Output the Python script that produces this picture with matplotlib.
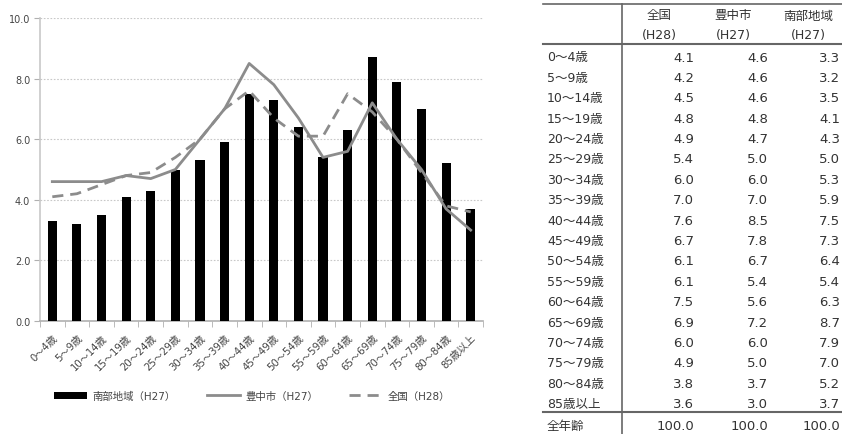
import numpy as np
import matplotlib
matplotlib.use('Agg')
import matplotlib.pyplot as plt
from matplotlib.ticker import FixedLocator

plt.rcParams['font.family'] = ['DejaVu Sans', 'Noto Sans CJK JP']

# age groups and share (%) of population
ages = ['0～4歳', '5～9歳', '10～14歳', '15～19歳', '20～24歳', '25～29歳',
        '30～34歳', '35～39歳', '40～44歳', '45～49歳', '50～54歳', '55～59歳',
        '60～64歳', '65～69歳', '70～74歳', '75～79歳', '80～84歳', '85歳以上']
zenkoku = [4.1, 4.2, 4.5, 4.8, 4.9, 5.4, 6.0, 7.0, 7.6, 6.7, 6.1, 6.1, 7.5, 6.9, 6.0, 4.9, 3.8, 3.6]
toyonaka = [4.6, 4.6, 4.6, 4.8, 4.7, 5.0, 6.0, 7.0, 8.5, 7.8, 6.7, 5.4, 5.6, 7.2, 6.0, 5.0, 3.7, 3.0]
nanbu = [3.3, 3.2, 3.5, 4.1, 4.3, 5.0, 5.3, 5.9, 7.5, 7.3, 6.4, 5.4, 6.3, 8.7, 7.9, 7.0, 5.2, 3.7]
totals = ['100.0', '100.0', '100.0']
col_heads = [('全国', '(H28)'), ('豊中市', '(H27)'), ('南部地域', '(H27)')]

W, H = 842, 435
fig = plt.figure(figsize=(W / 100, H / 100), dpi=100)

# ---- chart ----
ax = fig.add_axes([40 / W, 1 - 322 / H, 443 / W, 303 / H])
x = np.arange(len(ages))
b = ax.bar(x, nanbu, width=0.37, color='black', label='南部地域（H27）', zorder=3)
l1, = ax.plot(x, toyonaka, '-', color='#8c8c8c', lw=2.0, label='豊中市（H27）', zorder=4)
l2, = ax.plot(x, zenkoku, '--', color='#8c8c8c', lw=2.0, dashes=(4, 2.5), label='全国（H28）', zorder=4)

ax.set_xlim(-0.5, len(ages) - 0.5)
ax.set_ylim(0, 10)
ax.set_yticks(np.arange(0, 10.1, 2))
ax.set_yticklabels([f'{v:.1f}' for v in np.arange(0, 10.1, 2)], fontsize=7, color='#444444')
ax.yaxis.grid(True, color='#c8c8c8', linestyle=(0, (1.5, 1.5)), lw=0.8)
ax.set_axisbelow(True)

ax.set_xticks(x)
ax.set_xticklabels(ages, rotation=45, ha='right', rotation_mode='anchor', fontsize=7.3, color='#444444')
ax.tick_params(axis='x', length=0, pad=8)
ax.xaxis.set_minor_locator(FixedLocator(np.arange(-0.5, len(ages), 1)))
ax.tick_params(axis='x', which='minor', length=4, color='#b0b0b0')
ax.tick_params(axis='y', length=4, color='#b0b0b0', pad=3)

for side in ['top', 'right']:
    ax.spines[side].set_visible(False)
ax.spines['left'].set_color('#c8c8c8')
ax.spines['bottom'].set_color('#b0b0b0')
ax.spines['left'].set_linewidth(1.2)
ax.spines['bottom'].set_linewidth(1.2)

fig.legend(handles=[b, l1, l2], loc='center', bbox_to_anchor=(252 / W, 1 - 397 / H), ncol=3,
           frameon=False, fontsize=7.5, handlelength=3.2, columnspacing=3.0, handletextpad=0.5,
           labelcolor='#444444')

# ---- table ----
tb = fig.add_axes([0, 0, 1, 1])
tb.set_xlim(0, W)
tb.set_ylim(H, 0)
tb.axis('off')

line_c = '#666666'
txt_c = '#333333'
col_right = [694, 768, 840]
col_center = [659, 733, 808]
tb.plot([543, W], [5, 5], color=line_c, lw=1.2)
tb.plot([543, W], [45, 45], color=line_c, lw=1.5)
tb.plot([543, W], [413, 413], color=line_c, lw=1.5)
tb.plot([622, 622], [5, H], color=line_c, lw=1.2)

for j, (h1, h2) in enumerate(col_heads):
    tb.text(col_center[j], 16, h1, ha='center', va='center', fontsize=9, color=txt_c)
    tb.text(col_center[j], 35, h2, ha='center', va='center', fontsize=9, color=txt_c)

for i, age in enumerate(ages):
    yy = 58 + i * 20.4
    tb.text(547, yy, age, ha='left', va='center', fontsize=9, color=txt_c)
    for j, vals in enumerate([zenkoku, toyonaka, nanbu]):
        tb.text(col_right[j], yy, f'{vals[i]:.1f}', ha='right', va='center', fontsize=9.5, color=txt_c)

tb.text(547, 427, '全年齢', ha='left', va='center', fontsize=9, color=txt_c)
for j, t in enumerate(totals):
    tb.text(col_right[j], 427, t, ha='right', va='center', fontsize=9.5, color=txt_c)

fig.savefig('out.png', dpi=100)
